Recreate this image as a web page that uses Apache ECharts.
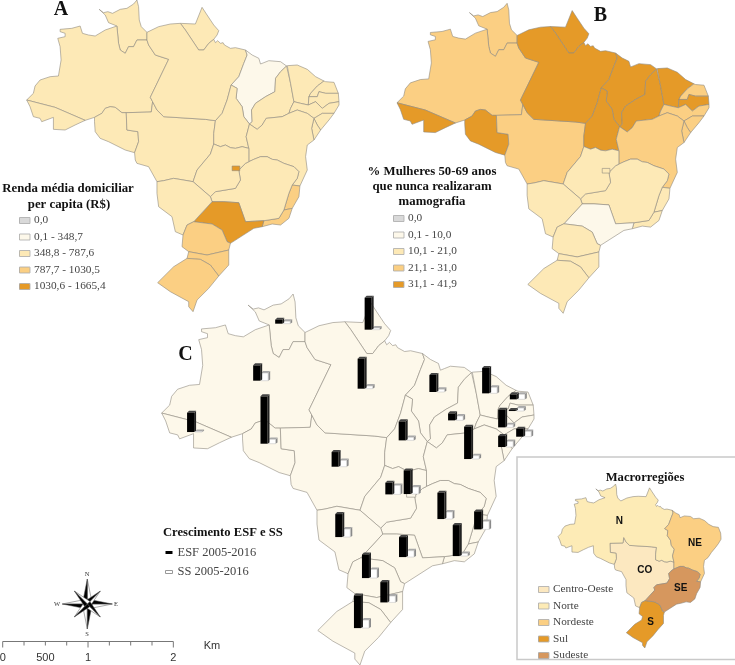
<!DOCTYPE html>
<html><head><meta charset="utf-8"><style>html,body{margin:0;padding:0;background:#fff}#c{width:735px;height:665px}</style>
<script src="https://cdn.jsdelivr.net/npm/echarts@6/dist/echarts.min.js"></script></head>
<body><div id="c"></div><script>
// ---------- data ----------
const stateNames = ['RR','AM','AC','RO','MT','AP','PA','MA','TO','PI','CE','RN','PB','PE','AL','SE','BA','ES','RJ','MG','GO','SP','MS','PR','SC','RS','DF'];
const rendaClass = [2,2,2,2,2,2,2,1,2,2,2,2,2,2,2,2,2,3,3,2,2,4,2,3,3,3,4];
const mamoClass  = [3,3,4,4,3,4,4,4,4,4,4,3,4,3,3,3,3,2,2,2,2,1,2,2,2,2,2];
const rendaLabels = ['0,0','0,1 - 348,7','348,8 - 787,6','787,7 - 1030,5','1030,6 - 1665,4'];
const mamoLabels  = ['0,0','0,1 - 10,0','10,1 - 21,0','21,1 - 31,0','31,1 - 41,9'];
const macroNames = ['Centro-Oeste','Norte','Nordeste','Sul','Sudeste'];
const macroCodes = ['CO','N','NE','S','SE'];
const macroClass = [0,1,2,3,4];
const macroStates = [['MT','GO','MS'],['RR','AM','AC','RO','AP','PA','TO'],['MA','PI','CE','RN','PB','PE','AL','SE','BA'],['PR','SC','RS'],['ES','RJ','MG','SP']];
const macroLabelAt = [[578,490],[432,213],[865,340],[611,789],[784,597]];
// bars of panel C: state, anchor (map units), ESF and SS growth (height in map units)
const barState = ['RR','AP','AM','PA','MA','CE','RN','PB','PE','AL','SE','PI','BA','TO','AC','RO','MT','GO','DF','MG','ES','RJ','SP','MS','PR','SC','RS'];
const barLon   = [345,613,279,592,807,965,1048,1045,1013,1067,1013,863,911,715,81,301,514,675,730,831,941,877,716,525,605,660,581];
const barBase  = [101,119,272,296,306,310,328,363,412,440,471,391,507,451,426,461,530,613,612,687,718,798,801,741,864,937,1014];
const esfGrowth = [18,102,52,96,57,82,21,9,59,30,39,27,103,63,64,148,50,41,77,85,60,99,66,75,77,67,104];
const ssGrowth  = [13,11,29,14,14,24,21,15,14,22,23,19,16,15,8,19,25,33,27,27,30,14,25,30,32,25,30];
const scaleTicks = ['0','','500','','1','','','','2'];

// ---------- shared state borders (traced outline) ----------
const arcs = {
 rrOut:[[350,78],[325,68],[315,45],[297,28],[310,38],[323,35],[337,40],[360,28],[380,25],[400,12],[410,0],[415,20],[417,60],[423,80],[440,97]],
 rrPa:[[440,97],[440,120]],
 rrAm:[[440,120],[410,120],[400,140],[385,140],[375,160],[360,150],[355,130],[350,78]],
 amOut:[[350,78],[315,90],[285,108],[265,105],[247,100],[240,78],[215,85],[180,88],[180,95],[195,100],[195,110],[173,115],[180,140],[183,180],[175,228],[150,230],[120,240],[105,258],[100,280],[80,300]],
 amAc:[[80,300],[165,322],[255,361]],
 amS:[[255,361],[283,352]],
 amRo:[[283,352],[305,340],[315,325],[330,320],[345,322],[365,338],[378,338]],
 amMt:[[378,338],[453,336],[457,305]],
 amPa:[[457,305],[450,292],[505,178],[465,165],[445,135],[440,120]],
 acOut:[[80,300],[90,320],[100,350],[120,355],[125,365],[160,352],[160,388],[195,390],[225,375],[255,361]],
 roOut:[[283,352],[283,365],[285,395],[300,415],[325,425],[375,450],[403,458]],
 roMt:[[403,458],[415,425],[413,395],[380,390],[378,338]],
 mtOut:[[403,458],[405,480],[410,490],[445,500],[470,545]],
 mtMs:[[470,545],[490,542],[520,535],[578,545]],
 mtGo:[[578,545],[590,510],[630,462],[640,432]],
 mtTo:[[640,432],[640,400],[645,362]],
 mtPa:[[645,362],[615,358],[490,350],[470,330],[457,305]],
 apPa:[[540,70],[555,90],[575,120],[595,150],[610,150],[625,130],[640,118]],
 apOut:[[540,70],[585,72],[605,22],[620,45],[640,75],[655,92],[650,105],[640,118]],
 paN:[[440,97],[475,80],[510,72],[540,70]],
 paOut:[[640,118],[645,128],[652,122],[660,130],[668,128],[672,135],[690,145],[705,143],[735,150]],
 paMa:[[735,150],[740,165],[730,190],[715,230],[692,255]],
 paTo:[[692,255],[680,300],[665,340],[645,362]],
 maOut:[[735,150],[755,165],[775,175],[780,192],[790,188],[805,182],[840,185],[858,198]],
 maPi:[[858,198],[840,215],[825,235],[823,275],[795,290],[765,310],[753,330],[755,365],[747,372]],
 maTo:[[747,372],[730,350],[725,320],[707,295],[710,265],[692,255]],
 toGo:[[640,432],[660,440],[675,435],[690,443],[705,445],[725,440],[745,445]],
 toBa:[[745,445],[737,410],[747,372]],
 piOut:[[858,198],[860,197]],
 piCe:[[860,197],[870,250],[880,305]],
 piPe:[[880,305],[870,325],[865,340]],
 piBa:[[865,340],[845,350],[797,355],[785,375],[770,388],[747,372]],
 ceOut:[[860,197],[890,195],[920,208],[945,230],[970,243]],
 ceRn:[[970,243],[950,258],[930,280],[925,290]],
 cePb:[[925,290],[923,315]],
 cePe:[[923,315],[900,310],[880,305]],
 rnOut:[[970,243],[975,245],[1000,247],[1013,280]],
 rnPb:[[1013,280],[975,280],[955,275],[950,290],[925,290]],
 pbOut:[[1013,280],[1015,305]],
 pbPe:[[1015,305],[985,310],[965,325],[945,305],[923,315]],
 peOut:[[1015,305],[1015,315],[1000,340]],
 peAl:[[1000,340],[965,340],[940,355]],
 peBa:[[940,355],[920,340],[890,330],[865,340]],
 alOut:[[1000,340],[985,360],[960,390]],
 alSe:[[960,390],[950,375],[940,355]],
 seOut:[[960,390],[940,420]],
 seBa:[[940,420],[933,385],[940,355]],
 baOut:[[940,420],[920,435],[915,470],[920,510],[898,558]],
 baEs:[[898,558],[875,555]],
 baMg:[[875,555],[890,535],[895,515],[880,500],[865,495],[850,490],[830,480],[815,478],[800,470],[780,470],[760,478],[745,485]],
 baGo:[[745,485],[745,445]],
 esOut:[[898,558],[895,590],[875,625]],
 esRj:[[875,625],[850,630]],
 esMg:[[850,630],[865,580],[875,555]],
 rjOut:[[875,625],[865,655],[840,675],[815,672],[785,680]],
 rjSp:[[785,680],[790,662]],
 rjMg:[[790,662],[835,655],[850,630]],
 mgSp:[[790,662],[735,665],[715,608],[670,605],[635,605]],
 mgMs:[[635,605],[630,590]],
 mgGo:[[630,590],[645,575],[705,565],[720,540],[715,510],[735,490],[745,485]],
 goMs:[[578,545],[630,590]],
 spOut:[[785,680],[760,685],[690,730]],
 spPr:[[690,730],[680,725],[665,690],[635,672],[580,665]],
 spMs:[[580,665],[635,605]],
 msPr:[[580,665],[560,675],[548,705]],
 msOut:[[548,705],[525,695],[515,650],[475,620],[470,580],[470,545]],
 prOut:[[690,730],[685,750]],
 prSc:[[685,750],[620,765],[565,755]],
 prSw:[[565,755],[545,740],[548,705]],
 scOut:[[685,750],[685,795],[655,828]],
 scRs:[[655,828],[630,795],[600,778],[560,775]],
 scW:[[560,775],[565,755]],
 rsOut:[[655,828],[625,865],[590,900],[578,935],[565,920],[565,905],[510,875],[472,848],[520,800],[560,775]]
};
const stateArcs = {
 RR:'rrOut rrPa rrAm', AM:'amOut amAc amS amRo amMt amPa rrAm', AC:'acOut -amAc', RO:'roOut roMt -amRo',
 MT:'mtOut mtMs mtGo mtTo mtPa -amMt -roMt', AP:'apOut -apPa', PA:'paN apPa paOut paMa paTo mtPa amPa -rrPa',
 MA:'maOut maPi maTo -paMa', TO:'paTo -mtTo toGo toBa maTo', PI:'piOut piCe piPe piBa -maPi',
 CE:'ceOut ceRn cePb cePe -piCe', RN:'rnOut rnPb -ceRn', PB:'pbOut pbPe -cePb -rnPb',
 PE:'peOut peAl peBa -piPe -cePe -pbPe', AL:'alOut alSe -peAl', SE:'seOut seBa -alSe',
 BA:'baOut baEs baMg baGo toBa -piBa -peBa -seBa', ES:'esOut esRj esMg -baEs', RJ:'rjOut rjSp rjMg -esRj',
 MG:'-esMg -rjMg mgSp mgMs mgGo -baMg', GO:'-mtGo goMs mgGo baGo -toGo', SP:'-mgSp -rjSp spOut spPr spMs',
 MS:'mtMs goMs -mgMs -spMs msPr msOut', PR:'-spPr prOut prSc prSw -msPr', SC:'scOut scRs scW -prSc', RS:'-scRs rsOut'
};
const dfRing = [[695,498],[718,498],[718,512],[695,512],[695,498]];

// ---------- geometry helpers ----------
const toMap = p => [5 + (p[0] - 80) * 1.193, -(12 + p[1] * 1.19)];
function ringOf(name){
  const out = [];
  stateArcs[name].split(' ').forEach(a => {
    let pts = a[0] === '-' ? arcs[a.slice(1)].slice().reverse() : arcs[a];
    pts.forEach(p => { const l = out[out.length-1]; if(!l || l[0]!==p[0] || l[1]!==p[1]) out.push(p); });
  });
  const f = out[0], l = out[out.length-1];
  if (f[0]!==l[0] || f[1]!==l[1]) out.push(f);
  return out;
}
function mergeRings(names){
  const edges = new Map();
  names.forEach(n => { const r = ringOf(n);
    for(let i=0;i<r.length-1;i++){ const a=r[i]+'', b=r[i+1]+''; const k=a<b?a+'|'+b:b+'|'+a;
      edges.has(k)?edges.delete(k):edges.set(k,[a,b]); } });
  const adj = {};
  edges.forEach(([a,b]) => { (adj[a]=adj[a]||[]).push(b); (adj[b]=adj[b]||[]).push(a); });
  const start = Object.keys(adj)[0], ring=[start]; let prev=null, cur=start;
  do { const nx = adj[cur].find(v => v!==prev) ?? prev; prev=cur; cur=nx; ring.push(cur); } while(cur!==start && ring.length<2000);
  return ring.map(s => s.split(',').map(Number));
}
const feature = (name, ring, cp) => ({type:'Feature', properties:Object.assign({name}, cp?{cp:toMap(cp)}:{}), geometry:{type:'Polygon',coordinates:[ring.map(toMap)]}});
const stateFeatures = stateNames.filter(n=>n!=='DF').map(n=>feature(n,ringOf(n))).concat([feature('DF',dfRing)]);
const macroFeatures = macroNames.map((n,i)=>feature(n,mergeRings(macroStates[i]),macroLabelAt[i]));
['brasilA','brasilB','brasilC'].forEach(m=>echarts.registerMap(m,{type:'FeatureCollection',features:stateFeatures}));
echarts.registerMap('macro',{type:'FeatureCollection',features:macroFeatures});

// ---------- styles ----------
const SERIF='"Liberation Serif","Times New Roman",serif', SANS='"Liberation Sans",Arial,sans-serif';
const classColors=['#d9d9d9','#fdf8ea','#fde9b6','#fbcf83','#e59a28'];
const macroColors=['#fce8c0','#fdebb6','#fbcf83','#e59a28','#d6975e'];
const mapBorder={borderColor:'#8f8a80',borderWidth:0.6};
const mapSeries=(map,left,top,w,h,names,vals,extra)=>Object.assign({type:'map',map,left,top,width:w,height:h,aspectScale:1,silent:true,selectedMode:false,showLegendSymbol:false,
  emphasis:{disabled:true},select:{disabled:true},itemStyle:mapBorder,label:{show:false},
  data:names.map((n,i)=>({name:n,value:vals[i]}))},extra||{});
const vm=(seriesIndex,left,top,labels,colors,size,gap)=>({type:'piecewise',seriesIndex,left,top,orient:'vertical',inverse:true,padding:0,
  itemWidth:11,itemHeight:6,itemGap:gap,textGap:4,align:'left',selectedMode:false,
  textStyle:{fontFamily:SERIF,fontSize:size,color:'#444'},
  pieces:labels.map((l,i)=>({value:i,label:l,color:colors[i]}))});

const bar3d=(front,side,top,edge)=>function(params,api){
  const x=api.value(0),lat=api.value(1),h=api.value(2),W=21,D=6;
  const P=(a,b)=>api.coord([x+a,lat+b]);
  const ft=Math.max(h-D,2);
  const poly=(pts,c,st)=>({type:'polygon',shape:{points:pts},style:Object.assign({fill:c},st||{})});
  return {type:'group',children:[
    poly([P(W,0),P(W,ft),P(W+D,h),P(W+D,D*0.6)],side),
    poly([P(0,ft),P(D,h),P(W+D,h),P(W,ft)],top),
    poly([P(0,0),P(0,ft),P(W,ft),P(W,0)],front,edge?{stroke:edge,lineWidth:.6}:null)
  ]};
};
const esfData=barState.map((s,i)=>[barLon[i],-barBase[i],esfGrowth[i]]);
const ssData =barState.map((s,i)=>[barLon[i]+24,-barBase[i],ssGrowth[i]]);

// ---------- static furniture ----------
const text=(t,x,y,font,fill,align)=>({type:'text',x,y,z:20,style:{text:t,font,fill:fill||'#111',align:align||'center',verticalAlign:'middle'}});
const titleFont='bold 12.8px '+SERIF, smallTitle='bold 12.6px '+SERIF;
const graphics=[
  text('A',61,10,'bold 20px '+SERIF),text('B',600.5,16,'bold 20px '+SERIF),text('C',185.5,355,'bold 20px '+SERIF),
  text('Renda média domiciliar',68,189,titleFont),text('per capita (R$)',69,205,titleFont),
  text('% Mulheres 50-69 anos',432,172,titleFont),text('que nunca realizaram',432,187,titleFont),text('mamografia',432,202,titleFont),
  text('Crescimento ESF e SS',163,533,smallTitle,'#111','left'),
  text('Macrorregiões',645,478,smallTitle),
  {type:'rect',z:1,shape:{x:517,y:457,width:240,height:202.5},style:{fill:'none',stroke:'#c9c9c9',lineWidth:1.5}},
  text('Km',212,646,'11px '+SANS,'#333')
];
// legend swatch outlines
[[19,217,16.5],[393,215,16.5],[538,586,16.5]].forEach(([x,y,dy])=>{ for(let i=0;i<5;i++)
  graphics.push({type:'rect',z:20,shape:{x:x+.5,y:y+i*dy+.5,width:10.5,height:6},style:{fill:'none',stroke:'#aaa',lineWidth:.8}}); });
// scale bar
const sx0=2.7,sdx=21.33,sy=641.5;
graphics.push({type:'line',z:20,shape:{x1:sx0,y1:sy,x2:sx0+8*sdx,y2:sy},style:{stroke:'#777',lineWidth:1}});
scaleTicks.forEach((t,i)=>{ const x=sx0+i*sdx;
  graphics.push({type:'line',z:20,shape:{x1:x,y1:sy,x2:x,y2:sy+(i%4===0?6:4)},style:{stroke:'#777',lineWidth:1}});
  if(t) graphics.push(text(t,x,658,'11px '+SANS,'#333'));
});
// compass rose
const cx=87.3,cy=604;
const spokes=[[0,-25],[25,0],[0,25],[-25,0],[13,-13],[13,13],[-13,13],[-13,-13]];
spokes.forEach(([dx,dy])=>{ const n=[-dy,dx],k=0.2;
  const side=(sgn)=>[cx+n[0]*k*sgn,cy+n[1]*k*sgn];
  const tip=[cx+dx,cy+dy];
  graphics.push({type:'polygon',z:21,shape:{points:[[cx,cy],tip,side(1)]},style:{fill:'#fff',stroke:'#555',lineWidth:.5}});
  graphics.push({type:'polygon',z:21,shape:{points:[[cx,cy],tip,side(-1)]},style:{fill:'#000',stroke:'#555',lineWidth:.5}});
});
[['N',87,574.5],['S',87,634],['W',57,604],['E',116,604]].forEach(([t,x,y])=>graphics.push(text(t,x,y,'6.5px '+SERIF,'#333')));

const chart=echarts.init(document.getElementById('c'),null,{renderer:'canvas'});
chart.setOption({
  backgroundColor:'#fff',animation:false,
  geo:{map:'brasilC',left:161.7,top:294,width:372.3,height:371,aspectScale:1,silent:true,roam:false,
    itemStyle:{areaColor:'#fdf8ea',borderColor:'#8f8a80',borderWidth:0.6},label:{show:false},emphasis:{disabled:true},select:{disabled:true}},
  visualMap:[
    vm(0,19,215,rendaLabels,classColors,11.3,5.5),
    vm(1,393,213,mamoLabels,classColors,11.3,5.5),
    vm(2,538,584,macroNames,macroColors,11.3,5.5)
  ],
  legend:{left:165,top:546,orient:'vertical',itemWidth:7,itemHeight:3,itemGap:6.5,itemStyle:{borderWidth:0},icon:'rect',selectedMode:false,padding:0,textStyle:{fontFamily:SERIF,fontSize:12.5,color:'#444'},
    data:[{name:'ESF 2005-2016',itemStyle:{color:'#000'}},{name:'SS 2005-2016',itemStyle:{color:'#fff',borderColor:'#999',borderWidth:1}}]},
  graphic:graphics,
  series:[
    mapSeries('brasilA',26.7,0,312.3,311.7,stateNames,rendaClass),
    mapSeries('brasilB',397,3.3,312,310,stateNames,mamoClass),
    mapSeries('macro',558,484,163,164,macroNames,macroClass,{label:{show:true,fontFamily:SANS,fontWeight:'bold',fontSize:10,color:'#111',formatter:p=>macroCodes[macroNames.indexOf(p.name)]}}),
    {type:'custom',name:'SS 2005-2016',coordinateSystem:'geo',geoIndex:0,silent:true,clip:false,z:5,renderItem:bar3d('#fff','#8a8a8a','#a8a8a8','#c8c8c8'),itemStyle:{color:'#fff'},data:ssData,encode:{lng:0,lat:1}},
    {type:'custom',name:'ESF 2005-2016',coordinateSystem:'geo',geoIndex:0,silent:true,clip:false,z:6,renderItem:bar3d('#000','#222','#444'),itemStyle:{color:'#000'},data:esfData,encode:{lng:0,lat:1}}
  ]
});
</script></body></html>
